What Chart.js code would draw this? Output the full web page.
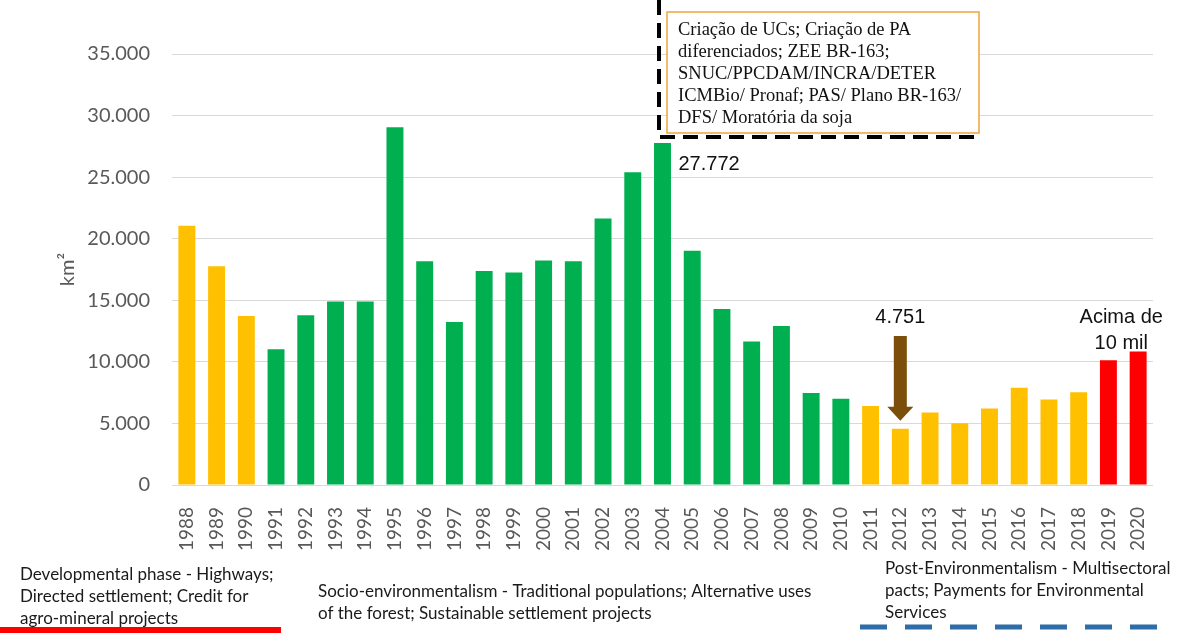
<!DOCTYPE html>
<html>
<head>
<meta charset="utf-8">
<script src="https://cdn.jsdelivr.net/npm/chart.js@4/dist/chart.umd.min.js"></script>
<style>
  html, body { margin: 0; padding: 0; background: #fff; }
  #wrap { width: 1183px; height: 639px; position: relative; }
</style>
</head>
<body>
<div id="wrap"><canvas id="myChart" width="1183" height="639"></canvas></div>
<script>
const years = ['1988','1989','1990','1991','1992','1993','1994','1995','1996','1997','1998','1999','2000','2001','2002','2003','2004','2005','2006','2007','2008','2009','2010','2011','2012','2013','2014','2015','2016','2017','2018','2019','2020'];
const deforestation = [21050,17770,13730,11030,13786,14896,14896,29059,18161,13227,17383,17259,18226,18165,21651,25396,27772,19014,14286,11651,12911,7464,7000,6418,4571,5891,5012,6207,7893,6947,7536,10129,10851];
const phases = ['dev','dev','dev','soc','soc','soc','soc','soc','soc','soc','soc','soc','soc','soc','soc','soc','soc','soc','soc','soc','soc','soc','soc','post','post','post','post','post','post','post','post','hot','hot'];
const phaseColors = {dev: '#FFC000', soc: '#00B050', post: '#FFC000', hot: '#FF0000'};
const yTicks = [0,5000,10000,15000,20000,25000,30000,35000];

const boxLines = ['Criação de UCs; Criação de PA', 'diferenciados; ZEE BR-163;', 'SNUC/PPCDAM/INCRA/DETER', 'ICMBio/ Pronaf; PAS/ Plano BR-163/', 'DFS/ Moratória da soja'];
const devText = ['Developmental phase - Highways;', 'Directed settlement; Credit for', 'agro-mineral projects'];
const socText = ['Socio-environmentalism - Traditional populations; Alternative uses', 'of the forest; Sustainable settlement projects'];
const postText = ['Post-Environmentalism - Multisectoral', 'pacts; Payments for Environmental', 'Services'];

const fmt = v => v.toString().replace(/\B(?=(\d{3})+(?!\d))/g, '.');

// annotations drawn on top of the chart
const notes = {
    id: 'notes',
    afterDraw(chart) {
        const c = chart.ctx;
        const x = chart.scales.x, y = chart.scales.y;
        c.save();

        // dashed black frame
        c.strokeStyle = '#000';
        c.lineWidth = 4;
        c.setLineDash([15, 8]);
        c.beginPath();
        c.moveTo(659, 0);
        c.lineTo(659, 137);
        c.lineTo(979, 137);
        c.stroke();
        c.setLineDash([]);

        // orange text box
        c.fillStyle = '#fff';
        c.fillRect(667, 12, 312, 121);
        c.strokeStyle = '#F2A23A';
        c.lineWidth = 1.5;
        c.strokeRect(667, 12, 312, 121);
        c.fillStyle = '#111';
        c.font = '18.5px "Liberation Serif", "DejaVu Serif", serif';
        c.textBaseline = 'alphabetic';
        c.textAlign = 'left';
        boxLines.forEach((t, i) => c.fillText(t, 678, 35 + i * 22));

        // 2004 value
        const i04 = years.indexOf('2004');
        c.font = '20px "Liberation Sans", Arial, sans-serif';
        c.fillStyle = '#111';
        c.fillText(fmt(deforestation[i04]), x.getPixelForValue(i04) + 16, y.getPixelForValue(deforestation[i04]) + 27);

        // arrow to 2012
        const i12 = years.indexOf('2012');
        const ax = x.getPixelForValue(i12);
        const tip = y.getPixelForValue(deforestation[i12]) - 8;
        c.fillStyle = '#7B4E0C';
        c.beginPath();
        c.moveTo(ax - 6.5, 336);
        c.lineTo(ax + 6.5, 336);
        c.lineTo(ax + 6.5, tip - 14);
        c.lineTo(ax + 13, tip - 14);
        c.lineTo(ax, tip);
        c.lineTo(ax - 13, tip - 14);
        c.lineTo(ax - 6.5, tip - 14);
        c.closePath();
        c.fill();
        c.fillStyle = '#111';
        c.textAlign = 'center';
        c.fillText('4.751', ax, 323);

        // above 10k
        const cx = (x.getPixelForValue(31) + x.getPixelForValue(32)) / 2 - 2;
        c.fillText('Acima de', cx, 323);
        c.fillText('10 mil', cx, 349);

        // phase captions
        c.textAlign = 'left';
        c.fillStyle = '#1a1a1a';
        c.font = '17px Lato, "Open Sans", sans-serif';
        devText.forEach((t, i) => c.fillText(t, 20, 580 + i * 22));
        socText.forEach((t, i) => c.fillText(t, 318, 597 + i * 22));
        postText.forEach((t, i) => c.fillText(t, 885, 574 + i * 22));

        c.fillStyle = '#FF0000';
        c.fillRect(0, 627, 281, 6);

        c.strokeStyle = '#2E6DA8';
        c.lineWidth = 5;
        c.setLineDash([27, 18]);
        c.beginPath();
        c.moveTo(860, 627);
        c.lineTo(1160, 627);
        c.stroke();

        c.restore();
    }
};

new Chart(document.getElementById('myChart'), {
    type: 'bar',
    data: {
        labels: years,
        datasets: [{
            label: 'km²',
            data: deforestation,
            backgroundColor: phases.map(p => phaseColors[p]),
            categoryPercentage: 1,
            barPercentage: 0.57
        }]
    },
    options: {
        responsive: false,
        animation: false,
        layout: {padding: {top: 54, right: 30, bottom: 0, left: 0}},
        plugins: {
            legend: {display: false},
            tooltip: {enabled: false}
        },
        scales: {
            x: {
                grid: {display: false},
                border: {display: false},
                ticks: {
                    autoSkip: false,
                    maxRotation: 90,
                    minRotation: 90,
                    padding: 14,
                    color: '#595959',
                    font: {family: 'Lato', size: 19}
                },
                afterFit: s => { s.height = 154; }
            },
            y: {
                min: 0,
                max: 35000,
                afterBuildTicks: s => { s.ticks = yTicks.map(v => ({value: v})); },
                grid: {color: '#D9D9D9', drawTicks: false},
                border: {display: false},
                ticks: {
                    padding: 22,
                    color: '#595959',
                    font: {family: 'Lato', size: 20},
                    callback: v => fmt(v)
                },
                title: {
                    display: true,
                    text: 'km²',
                    color: '#595959',
                    font: {family: 'Lato', size: 20},
                    padding: {top: 56, bottom: 0}
                },
                afterFit: s => { s.width = 172; }
            }
        }
    },
    plugins: [notes]
});
</script>
</body>
</html>
